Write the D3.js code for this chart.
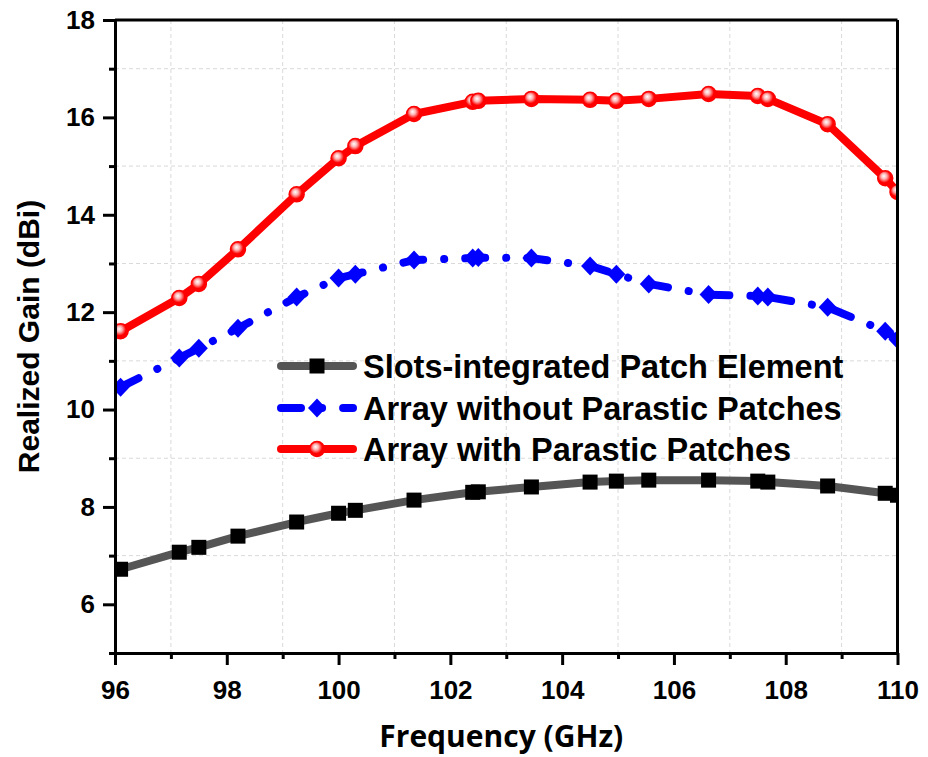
<!DOCTYPE html>
<html>
<head>
<meta charset="utf-8">
<script src="https://cdn.jsdelivr.net/npm/d3@7"></script>
<style>
  html, body { margin: 0; padding: 0; background: #fff; }
  svg { display: block; }
</style>
</head>
<body>
<svg id="chart" width="928" height="757"></svg>
<script>
// ---------- data ----------
const freq = [96.1, 97.15, 97.5, 98.2, 99.25, 100.0, 100.3, 101.35, 102.4, 102.5, 103.45, 104.5, 104.97, 105.55, 106.62, 107.5, 107.68, 108.75, 109.78, 110.0];
const slotsPatch = [6.72, 7.07, 7.17, 7.40, 7.69, 7.87, 7.93, 8.14, 8.30, 8.31, 8.41, 8.51, 8.53, 8.55, 8.55, 8.53, 8.51, 8.43, 8.28, 8.24];
const arrayNoParasitic = [10.46, 11.06, 11.26, 11.67, 12.31, 12.70, 12.78, 13.07, 13.11, 13.12, 13.11, 12.95, 12.78, 12.58, 12.36, 12.33, 12.31, 12.10, 11.61, 11.44];
const arrayParasitic = [11.61, 12.29, 12.58, 13.29, 14.42, 15.16, 15.41, 16.07, 16.32, 16.34, 16.38, 16.36, 16.34, 16.38, 16.48, 16.44, 16.38, 15.86, 14.75, 14.47];
const seriesNames = ["Slots-integrated Patch Element", "Array without Parastic Patches", "Array with Parastic Patches"];
const xTickValues = [96, 98, 100, 102, 104, 106, 108, 110];
const yTickValues = [6, 8, 10, 12, 14, 16, 18];
const xMinorValues = [97, 99, 101, 103, 105, 107, 109];
const yMinorValues = [5, 7, 9, 11, 13, 15, 17];
const xTitle = "Frequency (GHz)";
const yTitle = "Realized Gain (dBi)";

// ---------- layout ----------
const svg = d3.select("#chart");
const L = 115, R = 897.5, T = 20, B = 653;
const x = d3.scaleLinear().domain([96, 110]).range([L, R]);
const y = d3.scaleLinear().domain([5, 18]).range([B, T]);
const tickFont = "'Liberation Sans', Arial, sans-serif";

const defs = svg.append("defs");
defs.append("clipPath").attr("id", "plotclip")
  .append("rect").attr("x", L).attr("y", T).attr("width", R - L).attr("height", B - T);
const grad = defs.append("radialGradient").attr("id", "ballgrad")
  .attr("cx", "45%").attr("cy", "40%").attr("r", "55%").attr("fx", "40%").attr("fy", "35%");
grad.append("stop").attr("offset", "0%").attr("stop-color", "#ffffff");
grad.append("stop").attr("offset", "35%").attr("stop-color", "#ffb0b0");
grad.append("stop").attr("offset", "75%").attr("stop-color", "#ff0000");

// ---------- grid ----------
const grid = svg.append("g");
grid.selectAll("line.gx").data(xMinorValues).join("line")
  .attr("x1", d => x(d)).attr("x2", d => x(d)).attr("y1", T).attr("y2", B)
  .attr("stroke", "#d9d9d9").attr("stroke-width", 1).attr("stroke-dasharray", "4,3");
grid.selectAll("line.gy").data(yMinorValues.filter(v => v > 5)).join("line")
  .attr("y1", d => y(d)).attr("y2", d => y(d)).attr("x1", L).attr("x2", R)
  .attr("stroke", "#d9d9d9").attr("stroke-width", 1).attr("stroke-dasharray", "4,3");

// ---------- series ----------
const plot = svg.append("g").attr("clip-path", "url(#plotclip)");
const line = d3.line().x(d => x(d[0])).y(d => y(d[1]));
const zip = vals => freq.map((f, i) => [f, vals[i]]);

const styles = [
  { data: zip(slotsPatch), color: "#555555", width: 8, dash: null, marker: "square" },
  { data: zip(arrayNoParasitic), color: "#0000ff", width: 8, dash: "20,21,0.1,21", marker: "diamond" },
  { data: zip(arrayParasitic), color: "#ff0000", width: 8, dash: null, marker: "circle" }
];

function drawMarker(g, type, cx, cy) {
  if (type === "square") {
    g.append("rect").attr("x", cx - 7.5).attr("y", cy - 7.5).attr("width", 15).attr("height", 15)
      .attr("fill", "#000");
  } else if (type === "diamond") {
    g.append("path").attr("d", `M${cx},${cy - 9.5}L${cx + 9},${cy}L${cx},${cy + 9.5}L${cx - 9},${cy}Z`)
      .attr("fill", "#0000ff");
  } else {
    g.append("circle").attr("cx", cx).attr("cy", cy).attr("r", 7.5)
      .attr("fill", "url(#ballgrad)").attr("stroke", "#ff0000").attr("stroke-width", 1.5);
  }
}

styles.forEach(s => {
  const p = plot.append("path").datum(s.data).attr("d", line)
    .attr("fill", "none").attr("stroke", s.color).attr("stroke-width", s.width)
    .attr("stroke-linejoin", "round").attr("stroke-linecap", "round");
  if (s.dash) p.attr("stroke-dasharray", s.dash);
  const mg = plot.append("g");
  s.data.forEach(d => drawMarker(mg, s.marker, x(d[0]), y(d[1])));
});

// ---------- axes ----------
const axes = svg.append("g");
// frame top/right
axes.append("line").attr("x1", L).attr("x2", R).attr("y1", T).attr("y2", T).attr("stroke", "#000").attr("stroke-width", 3);
axes.append("line").attr("x1", R).attr("x2", R).attr("y1", T).attr("y2", B).attr("stroke", "#000").attr("stroke-width", 3);

const xAxis = axes.append("g").attr("transform", `translate(0,${B})`)
  .call(d3.axisBottom(x).tickValues(xTickValues).tickFormat(d3.format("d")).tickSizeInner(12).tickSizeOuter(0).tickPadding(16));
const xMinor = axes.append("g").attr("transform", `translate(0,${B})`)
  .call(d3.axisBottom(x).tickValues(xMinorValues).tickFormat("").tickSizeInner(6).tickSizeOuter(0));
const yAxis = axes.append("g").attr("transform", `translate(${L},0)`)
  .call(d3.axisLeft(y).tickValues(yTickValues).tickFormat(d3.format("d")).tickSizeInner(12).tickSizeOuter(0).tickPadding(8));
const yMinor = axes.append("g").attr("transform", `translate(${L},0)`)
  .call(d3.axisLeft(y).tickValues(yMinorValues).tickFormat("").tickSizeInner(6).tickSizeOuter(0));

[xAxis, xMinor, yAxis, yMinor].forEach(a => {
  a.select(".domain").attr("stroke", "#000").attr("stroke-width", 3);
  a.selectAll(".tick line").attr("stroke", "#000").attr("stroke-width", 3);
  a.selectAll(".tick text").attr("font-family", tickFont).attr("font-weight", "bold")
    .attr("font-size", 26).attr("fill", "#000");
});

// ---------- titles ----------
svg.append("text").attr("x", (L + R) / 2 - 5).attr("y", 747)
  .attr("text-anchor", "middle").attr("font-family", "'Open Sans', sans-serif").attr("font-weight", "bold")
  .attr("font-size", 30).attr("fill", "#000").text(xTitle);
svg.append("text").attr("transform", `translate(39,${(T + B) / 2}) rotate(-90)`)
  .attr("text-anchor", "middle").attr("font-family", tickFont).attr("font-weight", "bold")
  .attr("font-size", 30).attr("fill", "#000").text(yTitle);

// ---------- legend ----------
const lg = svg.append("g");
const legY = [366, 408, 449];
styles.forEach((s, i) => {
  const yy = legY[i];
  const pl = lg.append("line").attr("x1", 281).attr("x2", 353).attr("y1", yy).attr("y2", yy)
    .attr("stroke", s.color).attr("stroke-width", s.width).attr("stroke-linecap", "round");
  if (s.dash) pl.attr("stroke-dasharray", s.dash);
  drawMarker(lg, s.marker, 317, yy);
  lg.append("text").attr("x", 363).attr("y", yy + 12)
    .attr("font-family", tickFont).attr("font-weight", "bold").attr("font-size", 32.5)
    .attr("fill", "#000").text(seriesNames[i]);
});
</script>
</body>
</html>
